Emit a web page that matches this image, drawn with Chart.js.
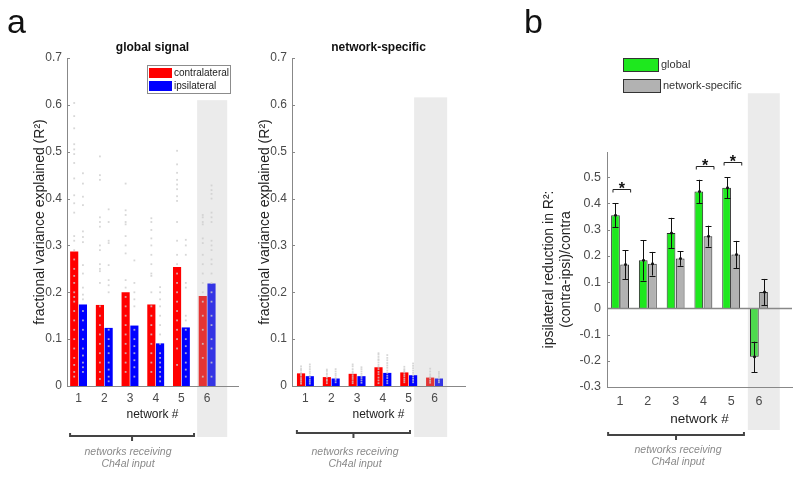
<!DOCTYPE html>
<html>
<head>
<meta charset="utf-8">
<script src="https://cdn.jsdelivr.net/npm/chart.js@4.4.0/dist/chart.umd.min.js"></script>
<style>
    body { margin: 0; background: #fff; }
    #wrap { position: relative; width: 800px; height: 477px; overflow: hidden; }
    canvas { position: absolute; top: 0; }
</style>
</head>
<body>
<div id="wrap">
    <canvas id="global_chart" width="250" height="477" style="left:0"></canvas>
    <canvas id="specific_chart" width="230" height="477" style="left:250px"></canvas>
    <canvas id="reduction_chart" width="320" height="477" style="left:480px"></canvas>
</div>
<script>
// ---- data ----
var networks = [1, 2, 3, 4, 5, 6];
var yTicksR2 = [0, 0.1, 0.2, 0.3, 0.4, 0.5, 0.6, 0.7];
var yTicksReduction = [-0.3, -0.2, -0.1, 0, 0.1, 0.2, 0.3, 0.4, 0.5];

// panel a, global signal (mean R2)
var globalContra = [0.287, 0.173, 0.200, 0.174, 0.254, 0.192];
var globalIpsi = [0.174, 0.124, 0.129, 0.091, 0.125, 0.219];
// panel a, network-specific (mean R2)
var specContra = [0.027, 0.019, 0.026, 0.040, 0.029, 0.018];
var specIpsi = [0.021, 0.016, 0.021, 0.028, 0.023, 0.016];

// individual animals (grey dots), one list per network
var globalContraPts = [
    [0.604, 0.576, 0.55, 0.516, 0.505, 0.495, 0.476, 0.443, 0.407, 0.39, 0.37, 0.32, 0.31, 0.29, 0.27, 0.25, 0.235, 0.22, 0.2, 0.19, 0.18, 0.16, 0.14, 0.12, 0.1, 0.08, 0.06, 0.045, 0.03, 0.02],
    [0.49, 0.45, 0.44, 0.36, 0.35, 0.34, 0.30, 0.29, 0.26, 0.25, 0.245, 0.22, 0.17, 0.15, 0.13, 0.11, 0.09, 0.07, 0.05, 0.03, 0.015],
    [0.432, 0.375, 0.365, 0.35, 0.345, 0.32, 0.3, 0.283, 0.226, 0.21, 0.19, 0.17, 0.15, 0.13, 0.11, 0.09, 0.07, 0.05, 0.03],
    [0.358, 0.35, 0.333, 0.315, 0.3, 0.28, 0.26, 0.24, 0.235, 0.2, 0.17, 0.15, 0.13, 0.11, 0.09, 0.07, 0.05, 0.03],
    [0.502, 0.473, 0.455, 0.44, 0.43, 0.42, 0.405, 0.395, 0.35, 0.31, 0.28, 0.26, 0.24, 0.22, 0.2, 0.18, 0.16, 0.14, 0.12, 0.1, 0.08, 0.045],
    [0.365, 0.36, 0.35, 0.345, 0.315, 0.305, 0.28, 0.26, 0.24, 0.22, 0.2, 0.18, 0.15, 0.12, 0.09, 0.06, 0.02]
];
var globalIpsiPts = [
    [0.454, 0.432, 0.404, 0.386, 0.33, 0.318, 0.307, 0.258, 0.24, 0.21, 0.195, 0.185, 0.16, 0.14, 0.12, 0.1, 0.08, 0.065, 0.05, 0.04, 0.03],
    [0.377, 0.35, 0.31, 0.305, 0.258, 0.226, 0.215, 0.2, 0.12, 0.1, 0.085, 0.07, 0.05, 0.035, 0.02, 0.01],
    [0.268, 0.22, 0.2, 0.185, 0.17, 0.12, 0.1, 0.085, 0.07, 0.055, 0.04, 0.02],
    [0.211, 0.2, 0.185, 0.17, 0.15, 0.13, 0.11, 0.09, 0.07, 0.06, 0.05, 0.04, 0.03, 0.02, 0.01],
    [0.312, 0.3, 0.28, 0.22, 0.21, 0.15, 0.14, 0.12, 0.1, 0.085, 0.07, 0.05, 0.035, 0.02],
    [0.428, 0.418, 0.41, 0.4, 0.37, 0.36, 0.35, 0.31, 0.3, 0.29, 0.27, 0.26, 0.24, 0.22, 0.2, 0.18, 0.15, 0.13, 0.1, 0.08, 0.05, 0.02]
];
var specContraPts = [
    [0.042, 0.037, 0.034, 0.029, 0.025, 0.022, 0.017, 0.013, 0.009, 0.005],
    [0.035, 0.032, 0.027, 0.024, 0.019, 0.014, 0.011, 0.006],
    [0.046, 0.042, 0.036, 0.031, 0.028, 0.023, 0.019, 0.015, 0.01, 0.006],
    [0.07, 0.067, 0.062, 0.057, 0.055, 0.05, 0.045, 0.041, 0.036, 0.03, 0.025, 0.018, 0.012, 0.006],
    [0.041, 0.036, 0.033, 0.03, 0.025, 0.021, 0.016, 0.012, 0.008],
    [0.037, 0.031, 0.025, 0.021, 0.016, 0.011, 0.007]
];
var specIpsiPts = [
    [0.046, 0.041, 0.036, 0.031, 0.027, 0.022, 0.018, 0.013, 0.009, 0.005],
    [0.036, 0.031, 0.026, 0.022, 0.017, 0.013, 0.008],
    [0.04, 0.036, 0.031, 0.026, 0.021, 0.017, 0.012, 0.007],
    [0.066, 0.06, 0.055, 0.049, 0.044, 0.039, 0.033, 0.028, 0.022, 0.017, 0.011, 0.006],
    [0.048, 0.043, 0.038, 0.033, 0.028, 0.023, 0.018, 0.013, 0.008],
    [0.03, 0.026, 0.021, 0.017, 0.012, 0.008]
];

// panel b, ipsilateral reduction (contra-ipsi)/contra, mean and s.e.m.
var reductionGlobal = [0.355, 0.183, 0.287, 0.445, 0.460, -0.185];
var reductionGlobalErr = [0.045, 0.077, 0.058, 0.045, 0.040, 0.058];
var reductionSpec = [0.167, 0.170, 0.190, 0.275, 0.205, 0.062];
var reductionSpecErr = [0.055, 0.045, 0.028, 0.040, 0.052, 0.050];
var sigNetworks = [1, 4, 5];
var sigLevels = [0.455, 0.542, 0.558];

Chart.defaults.font.family = "'Liberation Sans', Arial, Helvetica, sans-serif";
Chart.defaults.color = '#4a4a4a';
Chart.defaults.animation = false;
Chart.defaults.plugins.legend.display = false;
Chart.defaults.plugins.tooltip.enabled = false;

var FONT = "'Liberation Sans', Arial, Helvetica, sans-serif";

function toXY(values) {
    return networks.map(function (n, i) { return { x: n, y: values[i] }; });
}

function fmtTick(v) {
    return v === 0 ? '0' : v.toFixed(1);
}

function shadeNetwork6(chart, s) {
    var ctx = chart.ctx, x = chart.scales.x, y = chart.scales.y;
    var left = x.getPixelForValue(s.from);
    var right = x.getPixelForValue(s.to);
    var top = y.getPixelForValue(s.top);
    ctx.save();
    ctx.fillStyle = '#ebebeb';
    ctx.fillRect(left, top, right - left, s.bottom - top);
    ctx.restore();
}

function yInwardTicks(chart) {
    var ctx = chart.ctx, y = chart.scales.y, left = chart.chartArea.left;
    ctx.save();
    ctx.strokeStyle = '#888';
    ctx.lineWidth = 1;
    y.ticks.forEach(function (t) {
        var py = Math.round(y.getPixelForValue(t.value)) + 0.5;
        ctx.beginPath();
        ctx.moveTo(left, py);
        ctx.lineTo(left + 3, py);
        ctx.stroke();
    });
    ctx.restore();
}

// bracket below the x axis with the "networks receiving" note
function inputBracket(chart, b) {
    var ctx = chart.ctx, x = chart.scales.x;
    var x0 = x.getPixelForValue(b.from), x1 = x.getPixelForValue(b.to);
    var mid = (x0 + x1) / 2;
    ctx.save();
    ctx.strokeStyle = '#444';
    ctx.lineWidth = 2;
    ctx.beginPath();
    ctx.moveTo(x0, b.y - 3);
    ctx.lineTo(x0, b.y);
    ctx.lineTo(x1, b.y);
    ctx.lineTo(x1, b.y - 3);
    ctx.moveTo(mid, b.y);
    ctx.lineTo(mid, b.y + 5);
    ctx.stroke();
    ctx.fillStyle = '#8a8a8a';
    ctx.font = 'italic 10.5px ' + FONT;
    ctx.textAlign = 'center';
    ctx.textBaseline = 'middle';
    ctx.fillText('networks receiving', b.textX, b.textY);
    ctx.fillText('Ch4al input', b.textX, b.textY + 12);
    ctx.restore();
}

function drawDots(chart, datasetIndex, pts) {
    var ctx = chart.ctx, y = chart.scales.y;
    var meta = chart.getDatasetMeta(datasetIndex);
    ctx.save();
    ctx.fillStyle = 'rgba(205,205,205,0.8)';
    meta.data.forEach(function (bar, j) {
        pts[j].forEach(function (v) {
            ctx.fillRect(bar.x - 0.9, y.getPixelForValue(v) - 0.9, 1.8, 1.8);
        });
    });
    ctx.restore();
}

function r2Chart(canvasId, cfg) {
    var contraColors = networks.map(function (n) { return n === 6 ? 'rgb(228,52,52)' : 'rgb(255,0,0)'; });
    var ipsiColors = networks.map(function (n) { return n === 6 ? 'rgb(52,52,228)' : 'rgb(0,0,255)'; });

    var plugin = {
        id: 'r2panel',
        beforeDraw: function (chart) {
            shadeNetwork6(chart, cfg.shade);
        },
        afterDatasetsDraw: function (chart) {
            drawDots(chart, 0, cfg.contraPts);
            drawDots(chart, 1, cfg.ipsiPts);
        },
        afterDraw: function (chart) {
            var ctx = chart.ctx, area = chart.chartArea;
            yInwardTicks(chart);
            ctx.save();
            ctx.fillStyle = '#111';
            ctx.font = 'bold 12px ' + FONT;
            ctx.textAlign = 'center';
            ctx.textBaseline = 'middle';
            ctx.fillText(cfg.title, (area.left + area.right) / 2, 48);
            if (cfg.letter) {
                ctx.font = '34px ' + FONT;
                ctx.textAlign = 'left';
                ctx.textBaseline = 'alphabetic';
                ctx.fillText(cfg.letter, 7, 33);
            }
            if (cfg.legend) {
                ctx.fillStyle = '#fff';
                ctx.fillRect(147, 65, 83, 28);
                ctx.strokeStyle = '#8c8c8c';
                ctx.lineWidth = 1;
                ctx.strokeRect(147.5, 65.5, 83, 28);
                ctx.fillStyle = 'rgb(255,0,0)';
                ctx.fillRect(149, 68, 23, 10);
                ctx.fillStyle = 'rgb(0,0,255)';
                ctx.fillRect(149, 81, 23, 10);
                ctx.fillStyle = '#222';
                ctx.font = '10px ' + FONT;
                ctx.textAlign = 'left';
                ctx.textBaseline = 'middle';
                ctx.fillText('contralateral', 174, 73);
                ctx.fillText('ipsilateral', 174, 86);
            }
            ctx.restore();
            inputBracket(chart, cfg.bracket);
        }
    };

    return new Chart(document.getElementById(canvasId), {
        type: 'bar',
        data: {
            datasets: [{
                label: 'contralateral',
                data: toXY(cfg.contra),
                backgroundColor: contraColors,
                borderWidth: 0,
                categoryPercentage: 0.68,
                barPercentage: 0.93
            }, {
                label: 'ipsilateral',
                data: toXY(cfg.ipsi),
                backgroundColor: ipsiColors,
                borderWidth: 0,
                categoryPercentage: 0.68,
                barPercentage: 0.93
            }]
        },
        options: {
            responsive: false,
            layout: { padding: cfg.padding },
            scales: {
                x: {
                    type: 'linear',
                    offset: false,
                    min: cfg.xMin,
                    max: cfg.xMax,
                    afterBuildTicks: function (s) { s.ticks = networks.map(function (v) { return { value: v }; }); },
                    ticks: { font: { size: 12 }, padding: 5, callback: function (v) { return String(v); } },
                    grid: { display: false, drawTicks: false, offset: false },
                    border: { color: '#888' },
                    title: { display: true, text: 'network #', font: { size: 12 }, color: '#222', padding: 0 },
                    afterFit: function (s) { s.height = 36; }
                },
                y: {
                    min: 0,
                    max: 0.7,
                    afterBuildTicks: function (s) { s.ticks = yTicksR2.map(function (v) { return { value: v }; }); },
                    ticks: { font: { size: 12 }, padding: 5, callback: fmtTick },
                    grid: { display: false, drawTicks: false },
                    border: { color: '#888' },
                    title: { display: true, text: 'fractional variance explained (R²)', font: { size: 14 }, color: '#222', padding: 0 },
                    afterFit: function (s) { s.width = 35; }
                }
            }
        },
        plugins: [plugin]
    });
}

r2Chart('global_chart', {
    contra: globalContra, ipsi: globalIpsi,
    contraPts: globalContraPts, ipsiPts: globalIpsiPts,
    xMin: 0.55, xMax: 7.2,
    padding: { left: 32, top: 58, right: 12, bottom: 55 },
    shade: { from: 5.61, to: 6.78, top: 0.61, bottom: 437 },
    title: 'global signal', letter: 'a', legend: true,
    bracket: { from: 0.67, to: 5.49, y: 436, textX: 128, textY: 452 }
});

r2Chart('specific_chart', {
    contra: specContra, ipsi: specIpsi,
    contraPts: specContraPts, ipsiPts: specIpsiPts,
    xMin: 0.48, xMax: 7.18,
    padding: { left: 7, top: 58, right: 15, bottom: 55 },
    shade: { from: 5.21, to: 6.49, top: 0.616, bottom: 437 },
    title: 'network-specific', letter: null, legend: false,
    bracket: { from: 0.67, to: 5.05, y: 433, textX: 105, textY: 452 }
});

// ---- panel b ----
function errorBars(chart, datasetIndex, means, errs) {
    var ctx = chart.ctx, y = chart.scales.y;
    var meta = chart.getDatasetMeta(datasetIndex);
    ctx.save();
    ctx.strokeStyle = '#111';
    ctx.fillStyle = '#111';
    ctx.lineWidth = 1;
    meta.data.forEach(function (bar, j) {
        var cx = Math.round(bar.x) + 0.5;
        var lo = y.getPixelForValue(means[j] - errs[j]);
        var hi = y.getPixelForValue(means[j] + errs[j]);
        ctx.beginPath();
        ctx.moveTo(cx, lo);
        ctx.lineTo(cx, hi);
        ctx.moveTo(cx - 3, Math.round(lo) + 0.5);
        ctx.lineTo(cx + 3, Math.round(lo) + 0.5);
        ctx.moveTo(cx - 3, Math.round(hi) + 0.5);
        ctx.lineTo(cx + 3, Math.round(hi) + 0.5);
        ctx.stroke();
        ctx.beginPath();
        ctx.arc(cx, y.getPixelForValue(means[j]), 1.5, 0, Math.PI * 2);
        ctx.fill();
    });
    ctx.restore();
}

var reductionPlugin = {
    id: 'reductionPanel',
    beforeDraw: function (chart) {
        shadeNetwork6(chart, { from: 5.6, to: 6.75, top: 0.82, bottom: 430 });
    },
    afterDatasetsDraw: function (chart) {
        var ctx = chart.ctx, area = chart.chartArea, y = chart.scales.y;
        // zero line
        var y0 = Math.round(y.getPixelForValue(0)) + 0.5;
        ctx.save();
        ctx.strokeStyle = '#888';
        ctx.lineWidth = 1.5;
        ctx.beginPath();
        ctx.moveTo(area.left, y0);
        ctx.lineTo(area.right, y0);
        ctx.stroke();
        ctx.restore();
        errorBars(chart, 0, reductionGlobal, reductionGlobalErr);
        errorBars(chart, 1, reductionSpec, reductionSpecErr);
    },
    afterDraw: function (chart) {
        var ctx = chart.ctx, y = chart.scales.y;
        var green = chart.getDatasetMeta(0).data, grey = chart.getDatasetMeta(1).data;
        yInwardTicks(chart);
        ctx.save();
        // significance brackets
        ctx.strokeStyle = '#222';
        ctx.fillStyle = '#111';
        ctx.lineWidth = 1;
        ctx.font = 'bold 16px ' + FONT;
        ctx.textAlign = 'center';
        ctx.textBaseline = 'alphabetic';
        sigNetworks.forEach(function (n, k) {
            var i = networks.indexOf(n);
            var x0 = green[i].x - 2.5, x1 = grey[i].x + 6;
            var py = Math.round(y.getPixelForValue(sigLevels[k])) + 0.5;
            ctx.beginPath();
            ctx.moveTo(x0, py + 3);
            ctx.lineTo(x0, py);
            ctx.lineTo(x1, py);
            ctx.lineTo(x1, py + 3);
            ctx.stroke();
            ctx.fillText('*', (x0 + x1) / 2, py + 4);
        });
        // panel letter
        ctx.font = '34px ' + FONT;
        ctx.textAlign = 'left';
        ctx.fillText('b', 44, 33);
        // legend
        ctx.lineWidth = 1;
        ctx.strokeStyle = '#333';
        ctx.fillStyle = 'rgb(30,232,30)';
        ctx.fillRect(143, 58, 35, 13);
        ctx.strokeRect(143.5, 58.5, 35, 13);
        ctx.fillStyle = 'rgb(178,178,178)';
        ctx.fillRect(143, 79, 37, 13);
        ctx.strokeRect(143.5, 79.5, 37, 13);
        ctx.fillStyle = '#333';
        ctx.font = '11px ' + FONT;
        ctx.textBaseline = 'middle';
        ctx.fillText('global', 181, 65);
        ctx.fillText('network-specific', 183, 86);
        ctx.restore();
        inputBracket(chart, { from: 0.57, to: 5.46, y: 435, textX: 198, textY: 450 });
    }
};

new Chart(document.getElementById('reduction_chart'), {
    type: 'bar',
    data: {
        datasets: [{
            label: 'global',
            data: toXY(reductionGlobal),
            backgroundColor: networks.map(function (n) { return n === 6 ? 'rgb(78,218,78)' : 'rgb(30,232,30)'; }),
            borderColor: '#2a2a2a',
            borderWidth: 1,
            categoryPercentage: 0.66,
            barPercentage: 0.95
        }, {
            label: 'network-specific',
            data: toXY(reductionSpec),
            backgroundColor: networks.map(function (n) { return n === 6 ? 'rgb(168,168,168)' : 'rgb(178,178,178)'; }),
            borderColor: '#2a2a2a',
            borderWidth: 1,
            categoryPercentage: 0.66,
            barPercentage: 0.95
        }]
    },
    options: {
        responsive: false,
        layout: { padding: { left: 61, top: 152, right: 8, bottom: 50 } },
        scales: {
            x: {
                type: 'linear',
                offset: false,
                min: 0.53,
                max: 7.19,
                afterBuildTicks: function (s) { s.ticks = networks.map(function (v) { return { value: v }; }); },
                ticks: { font: { size: 12.5 }, padding: 7, callback: function (v) { return String(v); } },
                grid: { display: false, drawTicks: false, offset: false },
                border: { color: '#888' },
                title: { display: true, text: 'network #', font: { size: 13.5 }, color: '#222', padding: 0 },
                afterFit: function (s) { s.height = 40; }
            },
            y: {
                min: -0.3,
                max: 0.596,
                afterBuildTicks: function (s) { s.ticks = yTicksReduction.map(function (v) { return { value: v }; }); },
                ticks: { font: { size: 12.5 }, padding: 6, callback: fmtTick },
                grid: { display: false, drawTicks: false },
                border: { color: '#888' },
                title: { display: true, text: ['ipsilateral reduction in R²:', '(contra-ipsi)/contra'], font: { size: 14 }, color: '#222', padding: 0 },
                afterFit: function (s) { s.width = 66; }
            }
        }
    },
    plugins: [reductionPlugin]
});
</script>
</body>
</html>
